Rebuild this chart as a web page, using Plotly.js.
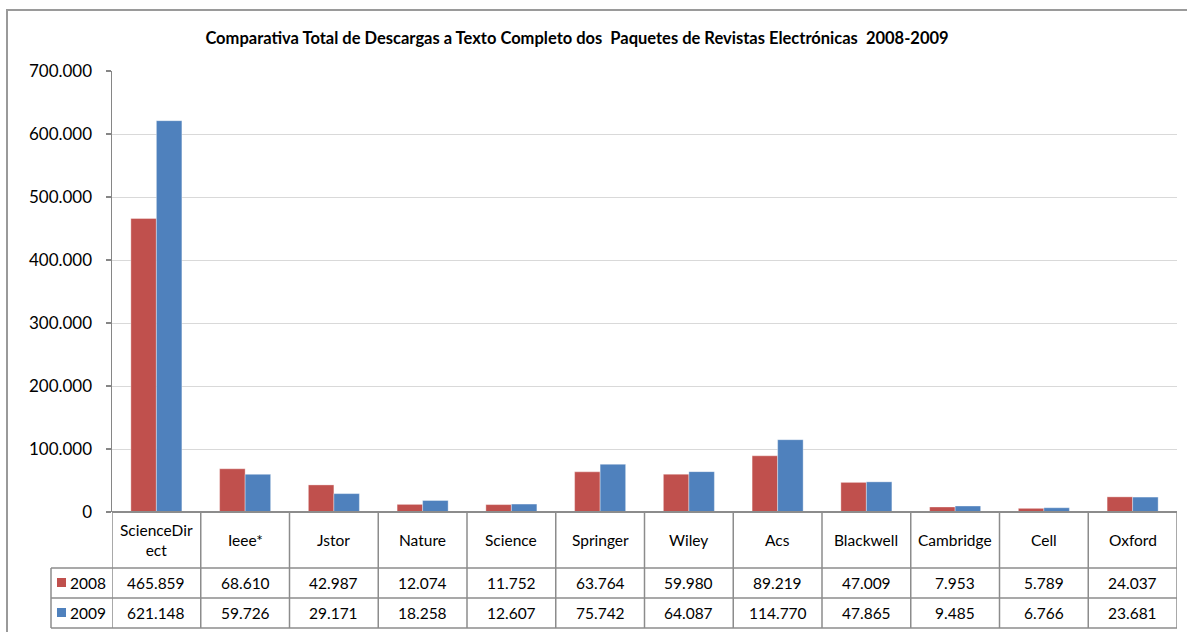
<!DOCTYPE html>
<html>
<head>
<meta charset="utf-8">
<script src="https://cdn.plot.ly/plotly-3.0.1.min.js"></script>
<style>html,body{margin:0;padding:0;background:#fff}#chart{width:1187px;height:632px}</style>
</head>
<body>
<div id="chart"></div>
<script>
const categories = ["ScienceDirect","Ieee*","Jstor","Nature","Science","Springer","Wiley","Acs","Blackwell","Cambridge","Cell","Oxford"];
const categoryLabels = ["ScienceDir<br>ect","Ieee*","Jstor","Nature","Science","Springer","Wiley","Acs","Blackwell","Cambridge","Cell","Oxford"];
const seriesNames = ["2008","2009"];
const values2008 = [465859,68610,42987,12074,11752,63764,59980,89219,47009,7953,5789,24037];
const values2009 = [621148,59726,29171,18258,12607,75742,64087,114770,47865,9485,6766,23681];
const yTicks = [0,100000,200000,300000,400000,500000,600000,700000];
const chartTitle = "Comparativa Total de Descargas a Texto Completo dos  Paquetes de Revistas Electrónicas  2008-2009";

const W = 1187, H = 632;
const L = 112, R = 10, T = 71, B = 120;
const PW = W - L - R, PH = H - T - B;
const colors = ["#C0504D", "#4F81BD"];
const FONT = "Lato, 'Open Sans', sans-serif";
const gridCol = "#8C8C8C";

function py(pix) { return (H - B - pix) / PH; }   // pixel y -> paper y
function px(pix) { return (pix - L) / PW; }       // pixel x -> paper x
function fmt(v) { return String(v).replace(/\B(?=(\d{3})+(?!\d))/g, "."); }

const series = [values2008, values2009];
const traces = series.map((vals, k) => ({
  type: "bar",
  name: seriesNames[k],
  x: categories,
  y: vals,
  marker: { color: colors[k], line: { color: "rgba(255,255,255,0.35)", width: 1 } },
  hoverinfo: "x+y+name"
}));

const n = categories.length;
const yHeadTop = 512, yRow1 = 568, yRow2 = 598, yBottom = 628, xLabelLeft = 51;
const shapes = [];
const annotations = [];

// outer chart border (left + top visible)
shapes.push({ type: "rect", xref: "paper", yref: "paper", x0: px(7), x1: px(1200), y0: py(10), y1: py(700),
  line: { color: "#9A9A9A", width: 2 }, fillcolor: "rgba(0,0,0,0)", layer: "below" });

// table horizontal lines
shapes.push({ type: "line", xref: "paper", yref: "paper", x0: px(L), x1: 1, y0: py(yHeadTop), y1: py(yHeadTop), line: { color: gridCol, width: 2 } });
[yRow1, yRow2, yBottom].forEach(yy => shapes.push({ type: "line", xref: "paper", yref: "paper",
  x0: px(xLabelLeft), x1: 1, y0: py(yy), y1: py(yy), line: { color: gridCol, width: 1.5 } }));
// table vertical lines at category boundaries
for (let i = 0; i <= n; i++) {
  shapes.push({ type: "line", xref: "x", yref: "paper", x0: i - 0.5, x1: i - 0.5, y0: py(yHeadTop), y1: py(yBottom),
    line: { color: gridCol, width: 1.5 } });
}
shapes.push({ type: "line", xref: "paper", yref: "paper", x0: px(xLabelLeft), x1: px(xLabelLeft), y0: py(yRow1), y1: py(yBottom),
  line: { color: gridCol, width: 1.5 } });

// header labels
categoryLabels.forEach((lab, i) => annotations.push({ xref: "x", yref: "paper", x: categories[i], y: py((yHeadTop + yRow1) / 2),
  text: lab, showarrow: false, font: { family: FONT, size: 15.5, color: "#000" }, xanchor: "center", yanchor: "middle" }));

// rows
const rowTops = [yRow1, yRow2];
series.forEach((vals, k) => {
  const yc = (rowTops[k] + rowTops[k] + 30) / 2;
  shapes.push({ type: "rect", xref: "paper", yref: "paper", x0: px(57), x1: px(66), y0: py(yc - 5), y1: py(yc + 4),
    fillcolor: colors[k], line: { width: 0 } });
  annotations.push({ xref: "paper", yref: "paper", x: px(68), y: py(yc), text: seriesNames[k], showarrow: false,
    xanchor: "left", yanchor: "middle", font: { family: FONT, size: 15.5, color: "#000" } });
  vals.forEach((v, i) => annotations.push({ xref: "x", yref: "paper", x: categories[i], y: py(yc), text: fmt(v),
    showarrow: false, xanchor: "center", yanchor: "middle", font: { family: FONT, size: 15.5, color: "#000" } }));
});

const layout = {
  width: W, height: H,
  margin: { l: L, r: R, t: T, b: B, pad: 0 },
  paper_bgcolor: "#fff", plot_bgcolor: "#fff",
  separators: ",.",
  showlegend: false,
  barmode: "group", bargap: 0.425, bargroupgap: 0,
  title: { text: "<b>" + chartTitle + "</b>", font: { family: FONT, size: 16.5, color: "#000" },
    xref: "container", yref: "container", x: 577 / W, y: 1 - 38 / H, xanchor: "center", yanchor: "middle" },
  xaxis: { type: "category", range: [-0.5, n - 0.5], showticklabels: false, showgrid: false, zeroline: false,
    showline: false, ticks: "", fixedrange: true },
  yaxis: { range: [0, 700000], tickvals: yTicks, tickformat: ",d", showgrid: true, gridcolor: "#D9D9D9", gridwidth: 1,
    zeroline: false, showline: true, linecolor: "#868686", linewidth: 1.5, ticks: "outside", ticklen: 5,
    tickcolor: "#868686", tickwidth: 1.5, ticklabelstandoff: 10,
    tickfont: { family: FONT, size: 17, color: "#000" }, fixedrange: true },
  shapes: shapes,
  annotations: annotations
};

Plotly.newPlot("chart", traces, layout, { displayModeBar: false, staticPlot: true });
</script>
</body>
</html>
